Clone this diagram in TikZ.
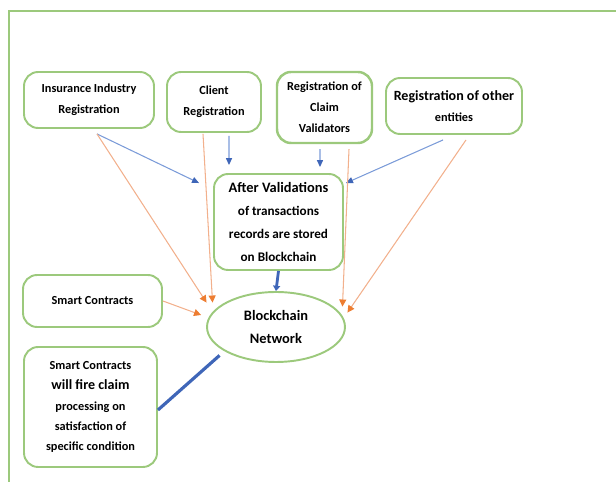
\documentclass[tikz,border=0pt]{standalone}
\usepackage{fontspec}
\setmainfont{Carlito}
\usetikzlibrary{arrows.meta,shapes.geometric}

\definecolor{boxgreen}{HTML}{9CC97C}
\definecolor{lineblue}{HTML}{7B9BD8}
\definecolor{headblue}{HTML}{3F66B8}
\definecolor{lineorange}{HTML}{F2B08C}
\definecolor{headorange}{HTML}{ED7D31}

\tikzset{
  regbox/.style={draw=boxgreen, line width=1.1pt, rounded corners=8pt, align=center,
    font=\fontsize{7}{12}\selectfont\bfseries, inner sep=2pt},
  blueline/.style={draw=lineblue, line width=0.6pt, -{Triangle[length=4pt,width=3.5pt,color=headblue]}},
  orangeline/.style={draw=lineorange, line width=0.6pt, -{Triangle[length=4pt,width=4pt,color=headorange]}}
}

\begin{document}
\begin{tikzpicture}[x=0.02cm,y=-0.02cm]

\useasboundingbox (0,0) rectangle (616,482);

% Frame
\draw[boxgreen, line width=1.2pt] (9,500) -- (9,11) -- (630,11);

% Registrations
\node[regbox, minimum width=2.6cm, minimum height=1.12cm] (ins) at (89,100)
  {Insurance Industry\\Registration};
\node[regbox, minimum width=1.88cm, minimum height=1.2cm] (client) at (214,102)
  {Client\\Registration};
\node[regbox, minimum width=1.9cm, minimum height=1.42cm, line width=1.4pt] (valid) at (324.5,107.5)
  {Registration of\\Claim\\Validators};
\node[regbox, minimum width=2.72cm, minimum height=1.12cm] (other) at (454,106)
  {{\fontsize{8}{12}\selectfont Registration of other}\\entities};

% Validation store
\node[regbox, minimum width=2.58cm, minimum height=1.92cm, font=\fontsize{7.5}{13}\selectfont\bfseries] (after) at (278.5,222)
  {{\fontsize{8.2}{13}\selectfont After Validations}\\of transactions\\records are stored\\on Blockchain};

% Smart contracts
\node[regbox, minimum width=2.78cm, minimum height=1.04cm] (smart) at (92.5,301) {Smart Contracts};
\node[regbox, minimum width=2.66cm, minimum height=2.4cm, font=\fontsize{7}{11.5}\selectfont\bfseries] (fire) at (90.5,407)
  {Smart Contracts\\{\fontsize{8}{11.5}\selectfont will fire claim}\\processing on\\satisfaction of\\specific condition};

% Network
\node[ellipse, draw=boxgreen, line width=1.1pt, minimum width=2.76cm, minimum height=1.4cm, align=center,
  font=\fontsize{8.2}{13}\selectfont\bfseries] (net) at (276,327) {Blockchain\\Network};

% blue arrows
\draw[blueline] ([xshift=0.16cm,yshift=-0.1cm]ins.south) -- ([xshift=-0.28cm,yshift=-0.2cm]after.north west);
\draw[blueline] ([xshift=0.3cm,yshift=-0.06cm]client.south) -- ([xshift=-0.99cm,yshift=0.16cm]after.north);
\draw[blueline] ([xshift=-0.09cm,yshift=-0.1cm]valid.south) -- ([xshift=0.83cm,yshift=0.12cm]after.north);
\draw[blueline] ([xshift=-0.22cm,yshift=-0.1cm]other.south) -- ([xshift=0.04cm,yshift=-0.2cm]after.north east);
\draw[draw=headblue, line width=1.6pt, -{Triangle[length=3pt,width=4pt]}] (after.south) -- (net.north);

% orange arrows
\draw[orangeline] ([xshift=0.16cm,yshift=-0.1cm]ins.south) -- ([xshift=-0.4cm,yshift=-0.02cm]net.north west);
\draw[orangeline] ([xshift=-0.22cm,yshift=-0.02cm]client.south) -- ([xshift=-0.28cm,yshift=-0.02cm]net.north west);
\draw[orangeline] ([xshift=0.49cm,yshift=-0.1cm]valid.south) -- ([xshift=0.34cm,yshift=-0.1cm]net.north east);
\draw[orangeline] ([xshift=0.24cm,yshift=-0.1cm]other.south) -- ([xshift=0.44cm,yshift=-0.22cm]net.north east);
\draw[orangeline] (smart.east) -- ([xshift=-0.1cm,yshift=0.24cm]net.west);

% firing
\draw[headblue, line width=1.8pt] ([xshift=-0.14cm,yshift=-0.06cm]net.south west) -- ([yshift=-0.06cm]fire.east);

\end{tikzpicture}
\end{document}
